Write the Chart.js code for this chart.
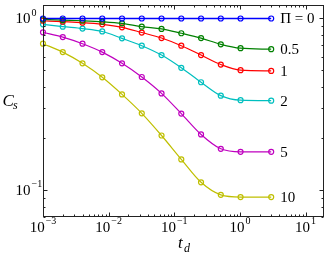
<!DOCTYPE html>
<html>
<head>
<meta charset="utf-8">
<script src="https://cdn.jsdelivr.net/npm/chart.js@4"></script>
<style>
  body { margin: 0; background: #fff; }
</style>
</head>
<body>
<canvas id="chart" width="329" height="256"></canvas>
<script>
const xValues = [0.001, 0.002, 0.004, 0.008, 0.016, 0.032, 0.064, 0.128, 0.256, 0.512, 1.024, 3]
const cs0 = [1.0, 1.0, 1.0, 1.0, 1.0, 1.0, 1.0, 1.0, 1.0, 1.0, 1.0, 1.0]
const cs05 = [0.987, 0.978, 0.970, 0.958, 0.937, 0.896, 0.869, 0.820, 0.769, 0.707, 0.671, 0.662]
const cs1 = [0.970, 0.958, 0.945, 0.924, 0.888, 0.828, 0.769, 0.694, 0.612, 0.539, 0.500, 0.495]
const cs2 = [0.924, 0.896, 0.873, 0.840, 0.766, 0.694, 0.612, 0.516, 0.425, 0.355, 0.334, 0.332]
const cs5 = [0.831, 0.779, 0.713, 0.637, 0.548, 0.456, 0.366, 0.279, 0.211, 0.174, 0.167, 0.167]
const cs10 = [0.713, 0.637, 0.548, 0.454, 0.361, 0.280, 0.208, 0.151, 0.111, 0.0938, 0.0911, 0.0911]
const piLabels = ['\u03A0 = 0', '0.5', '1', '2', '5', '10']
const colors = ['#0000ff', '#008000', '#ff0000', '#00bfbf', '#bf00bf', '#bfbf00']
const xDecades = [-3, -2, -1, 0, 1]
const yDecades = [-1, 0]

const allSeries = [cs0, cs05, cs1, cs2, cs5, cs10]
const SERIF = '"Liberation Serif", "DejaVu Serif", serif'

// draws "10" with a raised exponent
function drawPow(ctx, exp, x, y, align) {
  ctx.font = '15px ' + SERIF
  const wBase = ctx.measureText('10').width
  ctx.font = '10px ' + SERIF
  const wExp = ctx.measureText(exp).width
  let left
  if (align === 'center') left = x - (wBase + 1 + wExp) / 2
  else left = x - wBase
  ctx.textAlign = 'left'
  ctx.textBaseline = 'middle'
  ctx.font = '15px ' + SERIF
  ctx.fillText('10', left, y)
  ctx.font = '10px ' + SERIF
  ctx.fillText(exp, left + wBase + 1, y - 6.5)
}

const frame = {
  id: 'frame',
  afterDraw(chart) {
    const { ctx, chartArea: a, scales: { x, y } } = chart
    ctx.save()
    ctx.strokeStyle = '#222'
    ctx.fillStyle = '#000'
    ctx.lineWidth = 1
    const L = Math.round(a.left) + 0.5
    const R = Math.round(a.right) - 0.5
    const T = Math.round(a.top) + 0.5
    const B = Math.round(a.bottom) - 0.5
    ctx.strokeRect(L, T, R - L, B - T)

    // inside ticks, x axis
    ctx.beginPath()
    xDecades.forEach(d => {
      for (let k = 1; k < 10; k++) {
        const v = k * Math.pow(10, d)
        if (v < x.min || v > x.max) continue
        const px = Math.round(x.getPixelForValue(v)) + 0.5
        const len = k === 1 ? 4 : 2
        ctx.moveTo(px, B); ctx.lineTo(px, B - len)
        ctx.moveTo(px, T); ctx.lineTo(px, T + len)
      }
    })
    // y axis
    yDecades.concat([-2]).forEach(d => {
      for (let k = 1; k < 10; k++) {
        const v = k * Math.pow(10, d)
        if (v < y.min || v > y.max) continue
        const py = Math.round(y.getPixelForValue(v)) + 0.5
        const len = k === 1 ? 4 : 2
        ctx.moveTo(L, py); ctx.lineTo(L + len, py)
        ctx.moveTo(R, py); ctx.lineTo(R - len, py)
      }
    })
    ctx.stroke()

    // tick labels
    xDecades.forEach(d => {
      drawPow(ctx, d === 0 ? '0' : (d < 0 ? '\u2212' + (-d) : String(d)), x.getPixelForValue(Math.pow(10, d)), 228, 'center')
    })
    yDecades.forEach(d => {
      drawPow(ctx, d === 0 ? '0' : '\u2212' + (-d), 30.5, y.getPixelForValue(Math.pow(10, d)) + 1, 'right')
    })

    // axis titles
    ctx.textAlign = 'left'
    ctx.textBaseline = 'alphabetic'
    ctx.font = 'italic 17px ' + SERIF
    ctx.fillText('t', 178, 248)
    ctx.fillText('C', 2.5, 106)
    ctx.font = 'italic 12px ' + SERIF
    ctx.fillText('d', 184, 252)
    ctx.fillText('s', 13, 109)

    // series labels
    ctx.font = '15px ' + SERIF
    ctx.textBaseline = 'middle'
    allSeries.forEach((s, i) => {
      const last = xValues.length - 1
      const px = x.getPixelForValue(xValues[last]) + 9
      const py = y.getPixelForValue(s[last]) + 1
      ctx.fillText(piLabels[i], px, py)
    })
    ctx.restore()
  }
}

new Chart(document.getElementById('chart'), {
  type: 'line',
  data: {
    datasets: allSeries.map((s, i) => ({
      label: piLabels[i],
      data: xValues.map((v, j) => ({ x: v, y: s[j] })),
      borderColor: colors[i],
      borderWidth: i === 0 ? 1.5 : 1.2,
      pointRadius: 2.5,
      pointBorderWidth: 1.2,
      pointBackgroundColor: 'rgba(0,0,0,0)',
      pointBorderColor: colors[i],
      cubicInterpolationMode: 'monotone',
      clip: false
    }))
  },
  options: {
    responsive: false,
    animation: false,
    layout: { padding: { left: 43, top: 1, right: 4, bottom: 39 } },
    plugins: { legend: { display: false }, tooltip: { enabled: false } },
    scales: {
      x: { type: 'logarithmic', display: false, min: 0.001, max: 19 },
      y: { type: 'logarithmic', display: false, min: 0.0697, max: 1.195 }
    }
  },
  plugins: [frame]
})
</script>
</body>
</html>
